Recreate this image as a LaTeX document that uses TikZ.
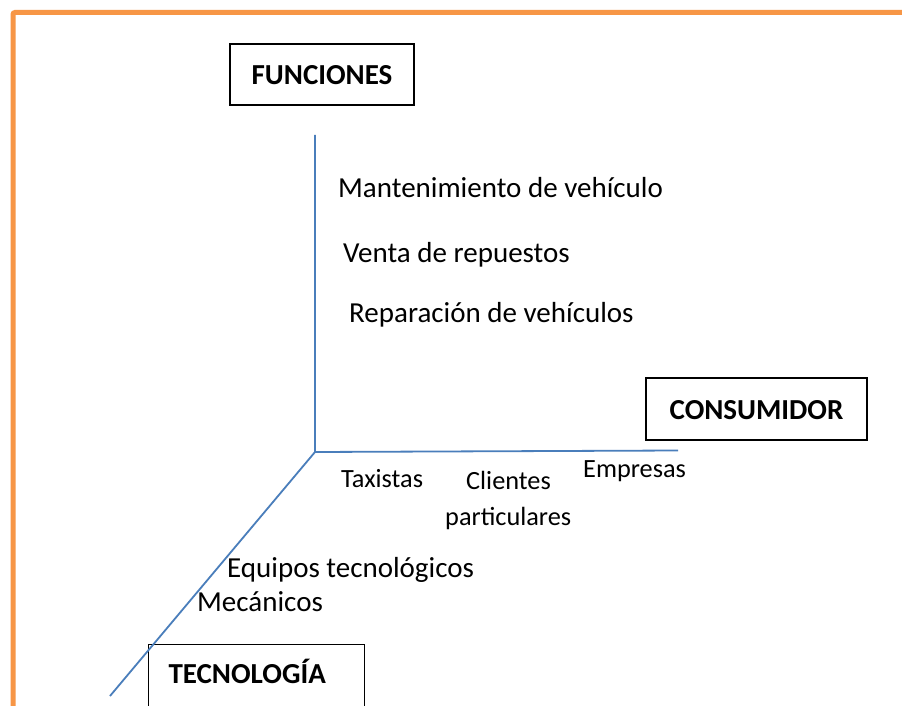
\documentclass[tikz,border=0pt]{standalone}
\usepackage{fontspec}
\setmainfont{Carlito}
\begin{document}
\begin{tikzpicture}[x=1pt,y=-1pt,
  axis/.style={draw=axisblue,line width=1.8pt},
  frame/.style={draw=frameorange,line width=5pt,rounded corners=2pt},
  box/.style={draw=black,line width=1.1pt,font=\fontsize{29}{34}\selectfont\bfseries,text height=20pt,text depth=0pt,inner sep=0pt},
  lbl/.style={anchor=base west,inner sep=0pt,font=\fontsize{29}{34}\selectfont},
  slbl/.style={anchor=base west,inner sep=0pt,font=\fontsize{26.3}{31}\selectfont}]
\definecolor{axisblue}{HTML}{4A7EBB}
\definecolor{frameorange}{HTML}{F79646}
\useasboundingbox (0,0) rectangle (902,706);
\fill[white] (0,0) rectangle (902,706);
% orange frame
\coordinate (fa) at (13,720);
\coordinate (fb) at (13,12.5);
\coordinate (fc) at (915,12.5);
\draw[frame] (fa) -- (fb) -- (fc);
% boxes
\node[box,minimum width=184pt,minimum height=61pt] (fun) at (322,74.5) {FUNCIONES};
\node[box,minimum width=221pt,minimum height=62pt] (con) at (756.5,409) {CONSUMIDOR};
\node[box,anchor=north west,inner xsep=20pt,inner ysep=0pt,text width=176pt,align=left,text height=39pt,text depth=30pt] (tec) at (148,644) {TECNOLOGÍA};
% axes
\coordinate (o) at (315,452);
\coordinate (top) at (315,135);
\coordinate (right) at (678,450.5);
\coordinate (low) at (110,696);
\draw[axis] (top) -- (o) -- (right);
\draw[axis] (o) -- (low);
% function labels
\node[lbl] (f1) at (338,197) {Mantenimiento de vehículo};
\node[lbl] (f2) at (343,262) {Venta de repuestos};
\node[lbl] (f3) at (349,322) {Reparación de vehículos};
% consumer labels
\node[slbl] (c1) at (341,487) {Taxistas};
\node[slbl] (c2) at (466,489) {Clientes};
\node[slbl] (c3) at (445,525) {particulares};
\node[slbl] (c4) at (583,477) {Empresas};
% technology labels
\node[lbl] (t1) at (227,577) {Equipos tecnológicos};
\node[lbl] (t2) at (197,611) {Mecánicos};
\end{tikzpicture}
\end{document}
